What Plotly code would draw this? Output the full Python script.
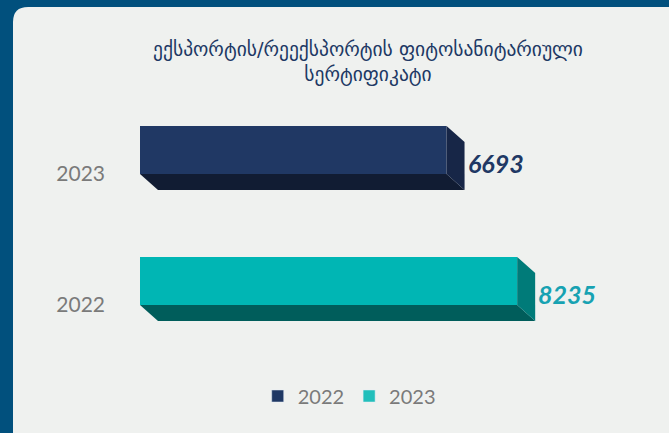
import plotly.graph_objects as go

# ---- data ----
categories = ["2022", "2023"]
values = [8235, 6693]
front_colors = ["#00B6B4", "#203864"]
bottom_colors = ["#005D5B", "#111C33"]
side_colors = ["#007B79", "#172647"]
label_colors = ["#17A2B2", "#203864"]
legend_labels = ["2022", "2023"]
legend_colors = ["#1F3864", "#22BFBB"]
title_text = "ექსპორტის/რეექსპორტის ფიტოსანიტარიული<br>სერტიფიკატი"

# ---- geometry (data units) ----
W = 0.366      # bar thickness
DX = 393       # depth offset in x (data units)
DY = 0.122     # depth offset in y (data units)
ypos = list(range(len(categories)))

fig = go.Figure()

# depth faces
for i, (c, v) in enumerate(zip(categories, values)):
    y0, y1 = ypos[i] - W / 2, ypos[i] + W / 2
    # bottom face
    fig.add_trace(go.Scatter(
        x=[0, v, v + DX, DX, 0], y=[y0, y0, y0 - DY, y0 - DY, y0],
        fill="toself", fillcolor=bottom_colors[i], mode="lines",
        line=dict(width=0, color=bottom_colors[i]), showlegend=False, hoverinfo="skip"))
    # right face
    fig.add_trace(go.Scatter(
        x=[v, v + DX, v + DX, v, v], y=[y1, y1 - DY, y0 - DY, y0, y1],
        fill="toself", fillcolor=side_colors[i], mode="lines",
        line=dict(width=0, color=side_colors[i]), showlegend=False, hoverinfo="skip"))

# front faces
fig.add_trace(go.Bar(
    y=ypos, x=values, orientation="h", width=W,
    marker=dict(color=front_colors, line=dict(width=0)),
    showlegend=False, hoverinfo="skip"))

# legend-only entries
for lab, col in zip(legend_labels, legend_colors):
    fig.add_trace(go.Bar(x=[None], y=[None], name=lab, orientation="h",
                         marker=dict(color=col)))

# value labels
for i, v in enumerate(values):
    fig.add_annotation(x=v + DX, y=ypos[i] - 0.1, text=f"<b><i>{v}</i></b>",
                       showarrow=False, xanchor="left", yanchor="middle", xshift=1,
                       font=dict(family="Lato", size=25, color=label_colors[i]))

# panel background (rounded)
px0, px1 = -0.2773, 1.2
py0, py1 = -0.4, 1.372
rx, ry = 0.033, 0.06
path = (f"M {px0+rx},{py1} L {px1},{py1} L {px1},{py0} L {px0},{py0} "
        f"L {px0},{py1-ry} Q {px0},{py1} {px0+rx},{py1} Z")
fig.add_shape(type="path", path=path, xref="paper", yref="paper",
              fillcolor="#EFF1EF", line=dict(width=0), layer="below")

fig.update_layout(
    width=669, height=433,
    margin=dict(l=140, r=71, t=100, b=83),
    paper_bgcolor="#01507D", plot_bgcolor="rgba(0,0,0,0)",
    barmode="overlay",
    title=dict(text=title_text, x=368 / 669, xanchor="center", y=1 - 56 / 433, yanchor="middle",
               font=dict(family="DejaVu Sans", size=19.5, color="#203864")),
    xaxis=dict(range=[0, 10000], visible=False, fixedrange=True),
    yaxis=dict(range=[-0.527, 1.382], tickvals=[p - 0.18 for p in ypos], ticktext=categories,
               showgrid=False, zeroline=False, showline=False, ticks="",
               tickfont=dict(family="Lato", size=21, color="#7A7A7A"), ticklabelstandoff=34),
    legend=dict(orientation="h", x=0.522, xanchor="center", xref="container",
                y=1 - 396 / 433, yanchor="middle", yref="container",
                font=dict(family="Lato", size=20, color="#7A7A7A"),
                bgcolor="rgba(0,0,0,0)", itemwidth=30, traceorder="normal"),
    showlegend=True,
)

fig.write_html("out.html", config={"displayModeBar": False},
               post_script="document.body.style.margin='0px';document.body.style.background='#01507D';")
